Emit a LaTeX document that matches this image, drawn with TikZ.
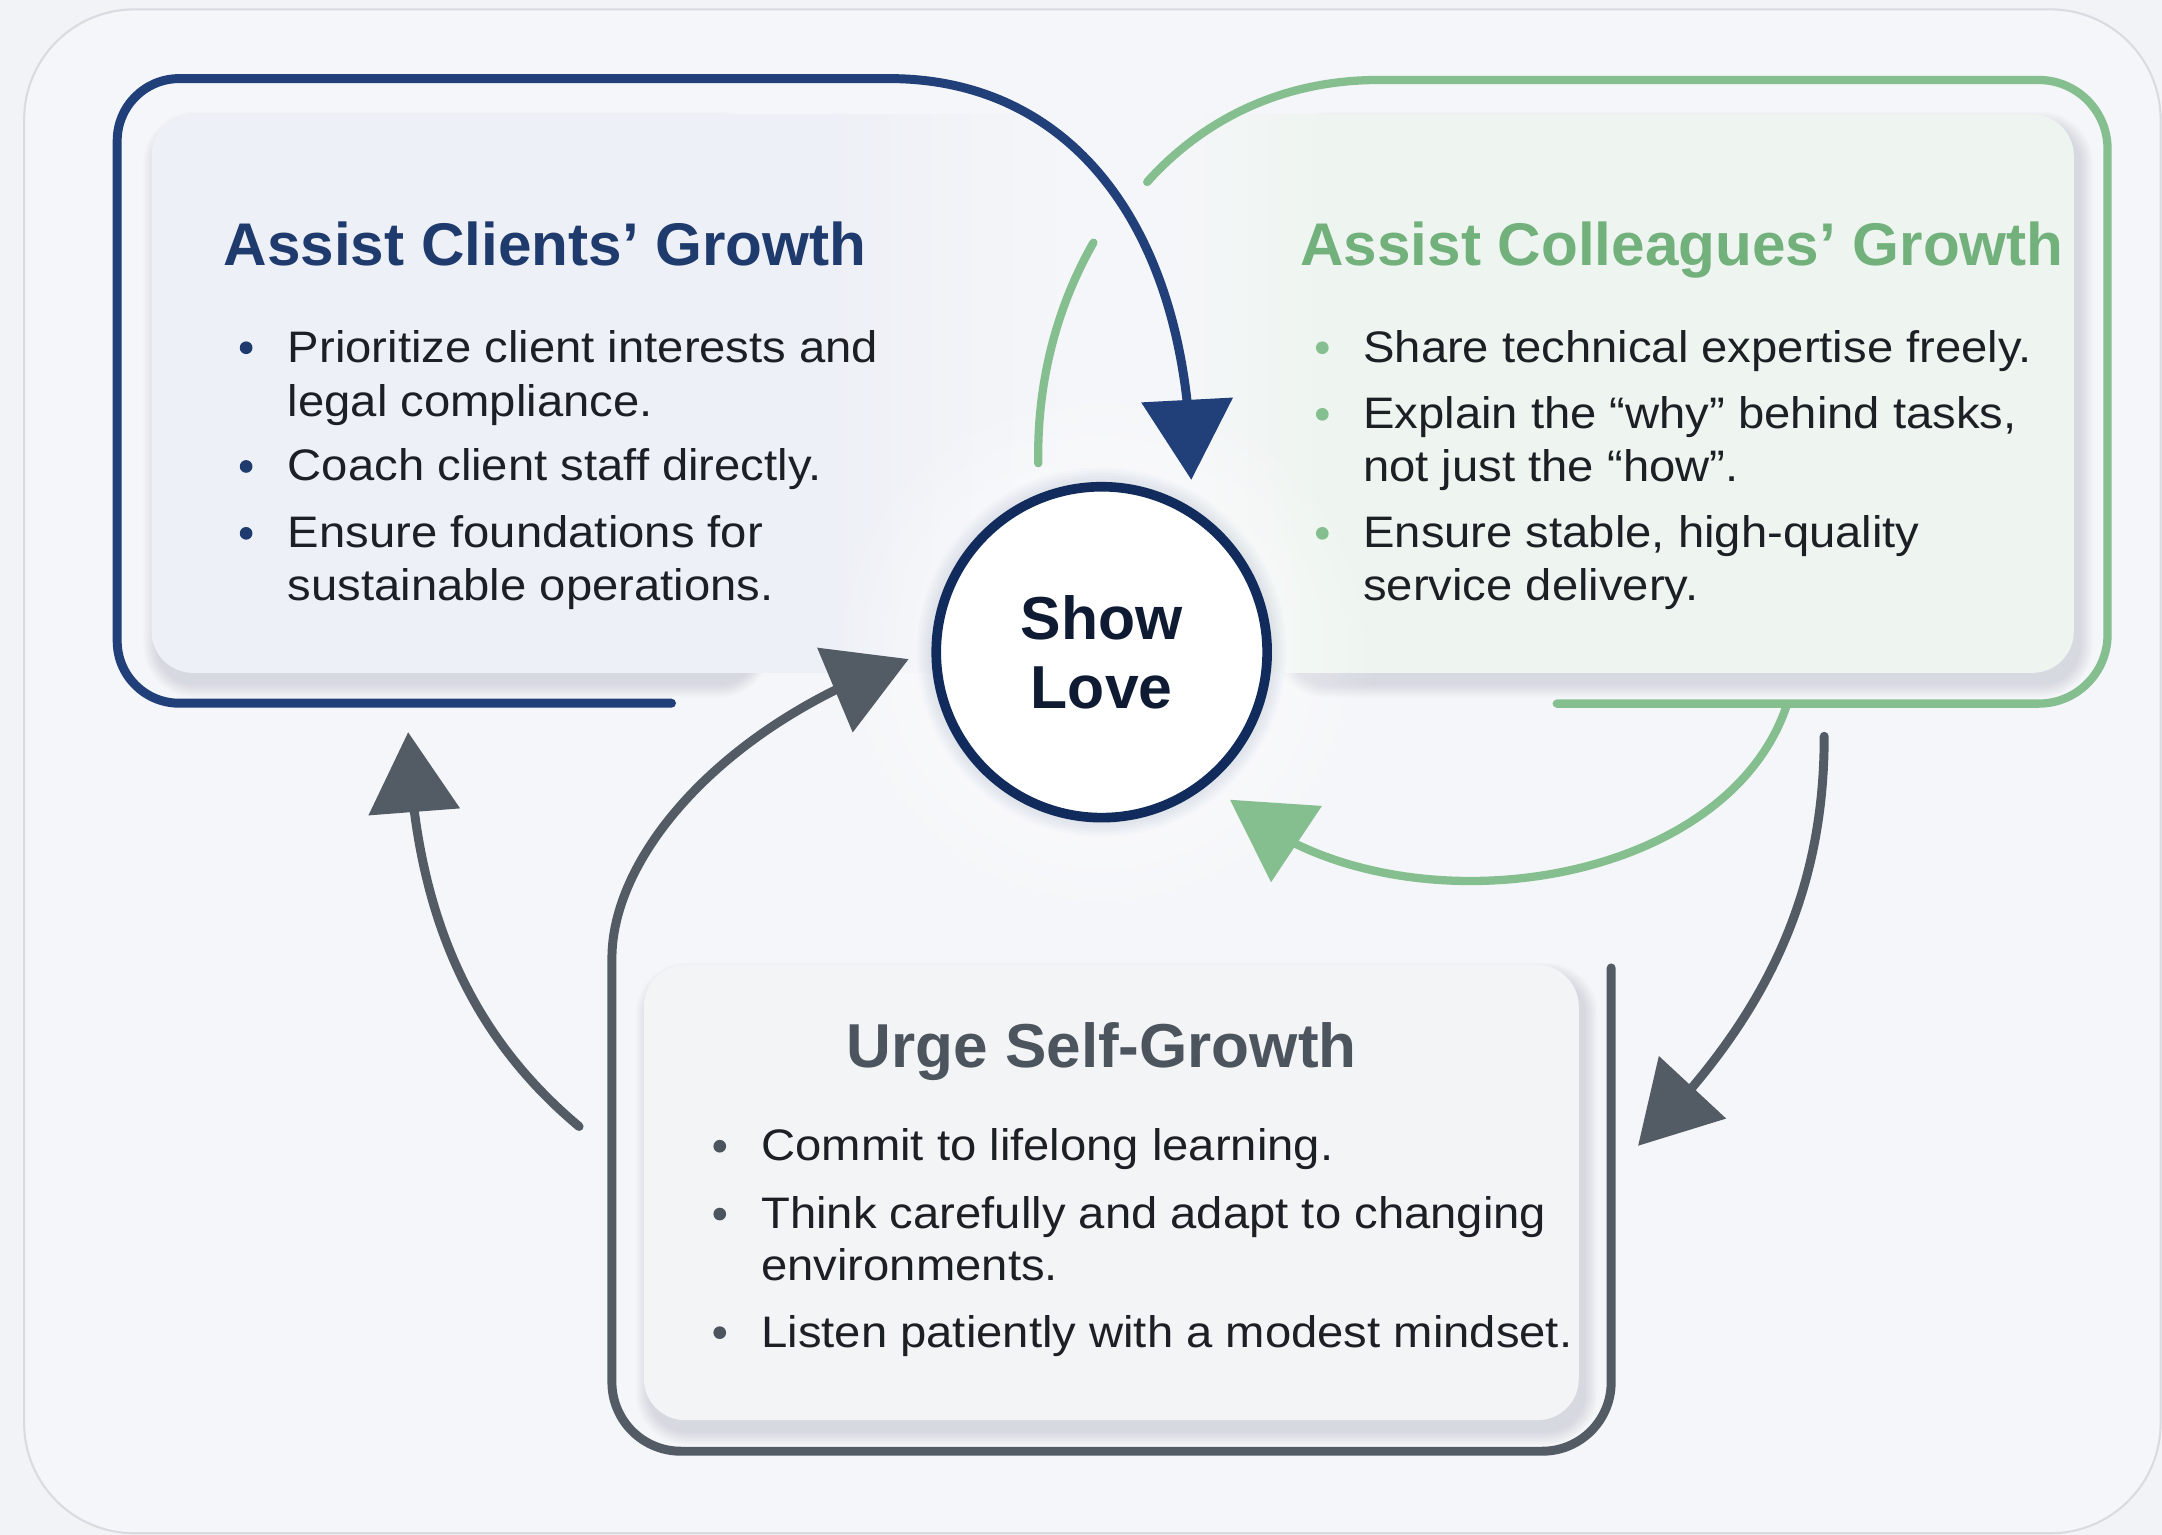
\documentclass[tikz,border=0pt]{standalone}
\usepackage{fontspec}
\setmainfont{Liberation Sans}
\newfontfamily\bodyfont{Liberation Sans}[FakeStretch=1.07]
\usetikzlibrary{arrows.meta,bending,fadings}

\definecolor{bgout}{HTML}{F1F3F6}
\definecolor{bgin}{HTML}{F5F6F9}
\definecolor{framegray}{HTML}{D8DBE1}
\definecolor{navy}{HTML}{213F78}
\definecolor{navydark}{HTML}{112C5C}
\definecolor{navytext}{HTML}{1F3A6C}
\definecolor{lovetext}{HTML}{0F1A33}
\definecolor{leaf}{HTML}{86BF8F}
\definecolor{leaftext}{HTML}{72B07C}
\definecolor{slate}{HTML}{535B65}
\definecolor{slatetext}{HTML}{4C545E}
\definecolor{bodytext}{HTML}{1C1F24}
\definecolor{bluecard}{HTML}{EDF0F6}
\definecolor{greencard}{HTML}{EEF5F0}
\definecolor{graycard}{HTML}{F3F4F6}
\definecolor{shadowcol}{HTML}{7D879A}

\tikzfading[name=glowfade, inner color=transparent!0, outer color=transparent!100]

\newcommand{\softshadow}[5]{%
  \foreach \k in {1,...,10}{%
    \fill[#5, opacity=0.025, rounded corners=28+\k] ({#1-\k+4},{#2-\k+8}) rectangle ({#3+\k+4},{#4+\k+8});
  }}

\begin{document}
\begin{tikzpicture}[x=1pt,y=-1pt,
  headtxt/.style={inner sep=0pt, font=\bfseries},
  bodytxt/.style={inner sep=0pt, anchor=base west, text=bodytext, font=\bodyfont\fontsize{32}{38.5}\selectfont},
  flowline/.style={line width=6.5pt, line cap=round, line join=round},
  arrowhd/.style={-{Triangle[length=58pt,width=65pt,flex]}},
]
\useasboundingbox (0,0) rectangle (1568,1113);
\fill[bgout] (0,0) rectangle (1568,1113);
\draw[framegray, line width=1.5pt, fill=bgin, rounded corners=80] (17.5,6.8) rectangle (1567,1112);

% named coordinates
\coordinate (lovec) at (799,473);
\coordinate (bluestart) at (487,510);
\coordinate (bluetip) at (864,348);
\coordinate (greenstart) at (832,132);
\coordinate (greenend) at (1129,510.3);
\coordinate (greenarcstart) at (1296,511);
\coordinate (greentip) at (892,580);
\coordinate (gleftA) at (753,336);
\coordinate (gleftB) at (793,176);
\coordinate (graystart) at (1168.5,702);
\coordinate (graytip) at (659,478);
\coordinate (gLtail) at (420,817);
\coordinate (gLtip) at (296,531);
\coordinate (gRtail) at (1323,534);
\coordinate (gRtip) at (1188,831);

% cards
\softshadow{110}{83}{545}{488}{shadowcol}
\fill[bluecard, rounded corners=30] (110,83) rectangle (660,488);
\shade[left color=bluecard, right color=bgin] (600,83) rectangle (780,488);

\softshadow{930}{83}{1504}{488}{shadowcol}
\fill[greencard, rounded corners=30] (900,83) rectangle (1504,488);
\shade[left color=bgin, right color=greencard] (850,83) rectangle (960,488);

\softshadow{467}{700}{1145}{1030}{shadowcol}
\fill[graycard, rounded corners=30] (467,700) rectangle (1145,1030);

% glow round the centre
\fill[white, path fading=glowfade] (lovec) circle (200);
\foreach \k in {1,...,6}{\fill[navy, opacity=0.02] (lovec) circle ({122+\k*2});}

% blue loop
\draw[flowline, navy, arrowhd] (bluestart) [rounded corners=45] -- (85,510) -- (85,57) -- (600,57) [sharp corners] .. controls (780,57) and (864,170) .. (bluetip);

% green loop
\draw[flowline, leaf, line width=6pt] (greenstart) .. controls (865,95) and (920,58) .. (1000,58) [rounded corners=50] -- (1528.5,58) -- (1528.5,510.3) -- (greenend);
\draw[flowline, leaf, line width=6pt, arrowhd] (greenarcstart) .. controls (1250,650) and (1000,680) .. (greentip);
\draw[flowline, leaf, line width=6pt] (gleftA) .. controls (752,280) and (765,225) .. (gleftB);

% gray loop
\draw[flowline, slate, arrowhd] (graystart) [rounded corners=50] -- (1168.5,1052.5) -- (443.8,1052.5) -- (443.8,745) [sharp corners] .. controls (443.8,620) and (525,525) .. (graytip);
\draw[flowline, slate, arrowhd] (gLtail) .. controls (340,750) and (300,660) .. (gLtip);
\draw[flowline, slate, arrowhd] (gRtail) .. controls (1323,650) and (1280,740) .. (gRtip);

% centre
\node[circle, draw=navydark, line width=7pt, fill=white, minimum size=240pt, inner sep=0pt, align=center, text=lovetext, font=\bfseries\fontsize{44}{49.6}\selectfont] (love) at (lovec) {Show\\Love};

% headings
\node[headtxt, anchor=base west, text=navytext, font=\bfseries\fontsize{43.7}{50}\selectfont] (hclients) at (162,192.6) {Assist Clients’ Growth};
\node[headtxt, anchor=base west, text=leaftext, font=\bfseries\fontsize{43.7}{50}\selectfont] (hcolleagues) at (942.8,192.6) {Assist Colleagues’ Growth};
\node[headtxt, anchor=base, text=slatetext, font=\bfseries\fontsize{45}{50}\selectfont] (hself) at (799,774.3) {Urge Self-Growth};

% clients list
\foreach \yy in {262.7,348.8,397.3}{\fill[navytext] (178.5,\yy-10.5) circle (4.6);}
\node[bodytxt] (c1) at (208.6,262.7) {Prioritize client interests and};
\node[bodytxt] (c2) at (208.6,301.9) {legal compliance.};
\node[bodytxt] (c3) at (208.6,348.8) {Coach client staff directly.};
\node[bodytxt] (c4) at (208.6,397.3) {Ensure foundations for};
\node[bodytxt] (c5) at (208.6,435.5) {sustainable operations.};

% colleagues list
\foreach \yy in {262.7,311,397.3}{\fill[leaf] (959,\yy-10.5) circle (4.6);}
\node[bodytxt] (g1) at (988.5,262.7) {Share technical expertise freely.};
\node[bodytxt] (g2) at (988.5,311) {Explain the “why” behind tasks,};
\node[bodytxt] (g3) at (988.5,349.5) {not just the “how”.};
\node[bodytxt] (g4) at (988.5,397.3) {Ensure stable, high-quality};
\node[bodytxt] (g5) at (988.5,435.5) {service delivery.};

% self list
\foreach \yy in {841.8,891,977}{\fill[slatetext] (522,\yy-10.5) circle (4.6);}
\node[bodytxt] (s1) at (552,841.8) {Commit to lifelong learning.};
\node[bodytxt] (s2) at (552,891) {Think carefully and adapt to changing};
\node[bodytxt] (s3) at (552,929) {environments.};
\node[bodytxt] (s4) at (552,977) {Listen patiently with a modest mindset.};
\end{tikzpicture}
\end{document}
